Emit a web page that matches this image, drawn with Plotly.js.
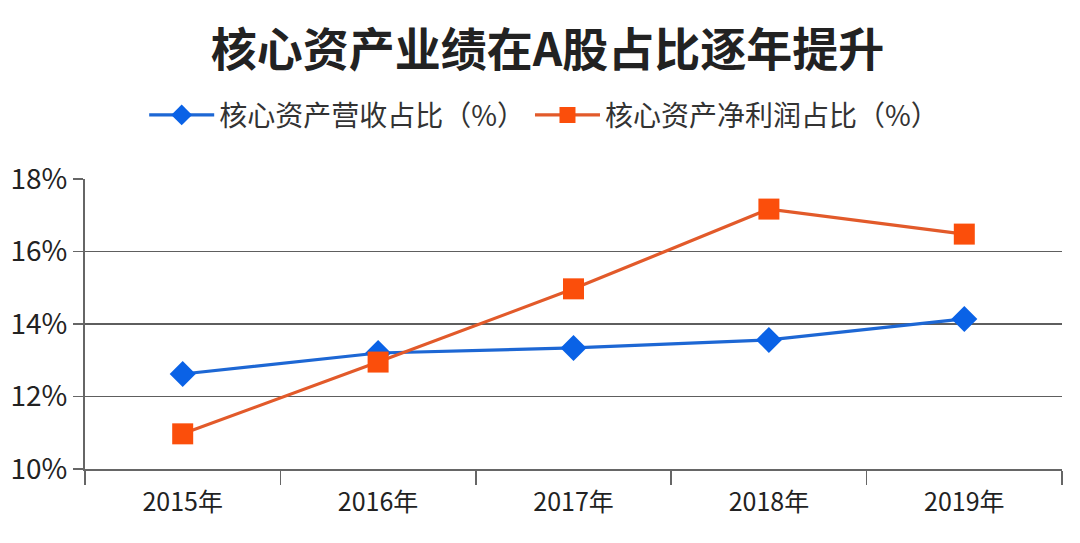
<!DOCTYPE html>
<html><head><meta charset="utf-8">
<script src="https://cdn.plot.ly/plotly-3.0.1.min.js"></script>
<style>html,body{margin:0;padding:0;background:#fff;}#chart{width:1080px;height:543px;}</style>
</head><body><div id="chart"></div>
<script>
const years = ['2015年','2016年','2017年','2018年','2019年'];
const revenueShare = [12.62, 13.2, 13.34, 13.56, 14.14];
const profitShare = [10.97, 12.95, 14.97, 17.17, 16.48];
const seriesNames = ['核心资产营收占比（%）','核心资产净利润占比（%）'];
const yTicks = [10, 12, 14, 16, 18];

const font = "'Noto Sans CJK SC', 'Noto Sans', sans-serif";
const data = [
  {x: years, y: revenueShare, name: seriesNames[0], type: 'scatter', mode: 'lines+markers',
   line: {color: '#1d67d4', width: 3.2}, marker: {symbol: 'diamond', size: 20, color: '#0a62e6'}},
  {x: years, y: profitShare, name: seriesNames[1], type: 'scatter', mode: 'lines+markers',
   line: {color: '#e25a2a', width: 3.2}, marker: {symbol: 'square', size: 21, color: '#fb4e0b'}}
];
const layout = {
  width: 1080, height: 543,
  margin: {l: 85, r: 18, t: 179, b: 74},
  paper_bgcolor: '#fff', plot_bgcolor: '#fff',
  font: {family: font, color: '#222'},
  title: {text: '<b>核心资产业绩在A股占比逐年提升</b>', x: 0.507, xanchor: 'center', y: 0.908, yanchor: 'middle',
          font: {size: 46, family: font, color: '#222'}},
  showlegend: true,
  legend: {orientation: 'h', x: 0.47, xanchor: 'center', y: 1.22, yanchor: 'middle',
           font: {size: 28, family: font, color: '#333'}, itemwidth: 65, traceorder: 'normal'},
  xaxis: {type: 'category', tickson: 'boundaries', ticks: 'outside', ticklen: 14, tickcolor: '#666', tickwidth: 1.5,
          showline: true, linecolor: '#666', linewidth: 2, showgrid: false, ticklabelstandoff: 10,
          tickfont: {size: 25, family: font, color: '#222'}, range: [-0.5, 4.5]},
  yaxis: {range: [10, 18], tickvals: yTicks, ticktext: yTicks.map(v => v + '%'),
          ticks: 'outside', ticklen: 10, tickcolor: '#666', tickwidth: 1.5,
          showgrid: true, gridcolor: '#5e5e5e', gridwidth: 1.8, zeroline: false,
          showline: true, linecolor: '#666', linewidth: 2,
          tickfont: {size: 28, family: font, color: '#222'}}
};
Plotly.newPlot('chart', data, layout, {displayModeBar: false, staticPlot: true});
</script></body></html>
